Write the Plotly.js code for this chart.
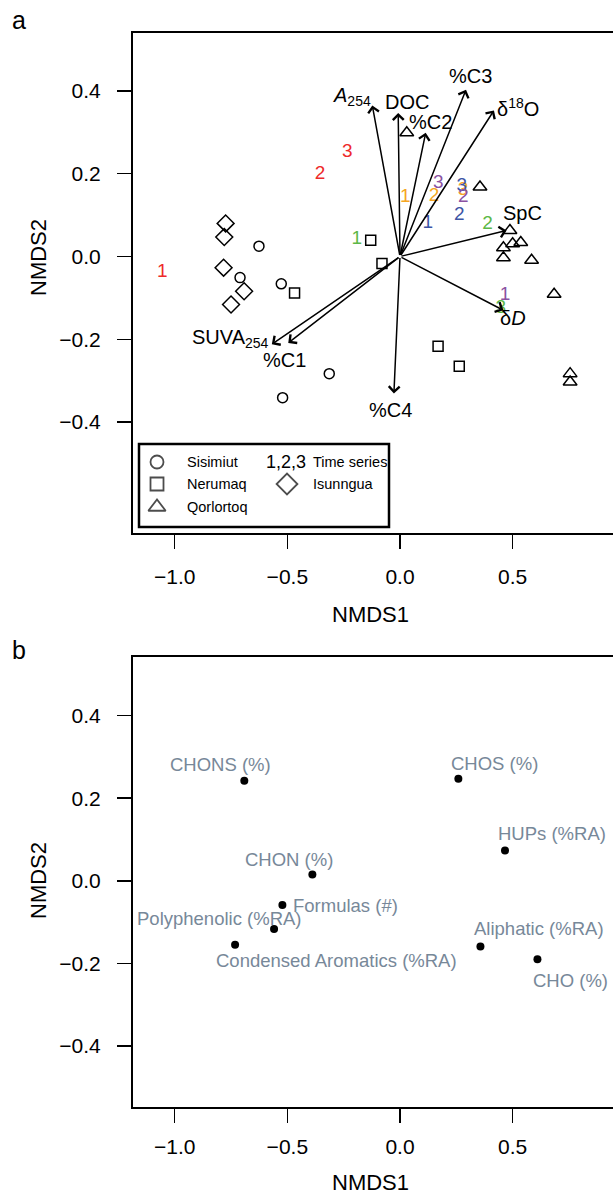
<!DOCTYPE html>
<html><head><meta charset="utf-8">
<script src="https://cdn.plot.ly/plotly-3.0.1.min.js"></script>
<style>html,body{margin:0;padding:0;overflow:hidden;background:#fff}#chart{width:630px;height:1195px}</style>
</head><body><div id="chart"></div>
<script>
// ---------- Panel a: sample scores ----------
const sisimiutX = [-0.626, -0.710, -0.527, -0.314, -0.521];
const sisimiutY = [0.025, -0.051, -0.066, -0.283, -0.341];
const nerumaqX = [-0.130, -0.080, -0.468, 0.169, 0.263];
const nerumaqY = [0.039, -0.017, -0.088, -0.217, -0.265];
const qorlortoqX = [0.030, 0.355, 0.488, 0.459, 0.500, 0.536, 0.459, 0.584, 0.684, 0.755, 0.755];
const qorlortoqY = [0.299, 0.168, 0.063, 0.021, 0.031, 0.034, -0.003, -0.009, -0.091, -0.283, -0.303];
const isunnguaX = [-0.774, -0.780, -0.783, -0.692, -0.750];
const isunnguaY = [0.080, 0.047, -0.027, -0.084, -0.116];

// time series labels
const tsGroup = ['red','red','red','green','green','green','orange','orange','orange','blue','blue','blue','purple','purple','purple'];
const tsLabel = ['1','2','3','1','2','3','1','2','3','1','2','3','1','2','3'];
const tsX = [-1.055, -0.355, -0.234, -0.192, 0.388, 0.447, 0.024, 0.151, 0.280, 0.123, 0.263, 0.274, 0.466, 0.281, 0.170];
const tsY = [-0.037, 0.199, 0.253, 0.041, 0.077, -0.124, 0.144, 0.146, 0.160, 0.080, 0.100, 0.170, -0.094, 0.144, 0.176];

// environmental vectors
const vecNames = ['<i>A</i><sub>254</sub>', 'DOC', '%C2', '%C3', 'δ<sup>18</sup>O', 'SpC', 'δ<i>D</i>', '%C4', '%C1', 'SUVA<sub>254</sub>'];
const vecX = [-0.123, -0.008, 0.114, 0.293, 0.417, 0.473, 0.459, -0.027, -0.496, -0.569];
const vecY = [0.365, 0.347, 0.299, 0.403, 0.353, 0.063, -0.130, -0.331, -0.209, -0.212];

// ---------- Panel b: molecular variables ----------
const molNames = ['CHONS (%)', 'CHOS (%)', 'HUPs (%RA)', 'CHON (%)', 'Formulas (#)', 'Polyphenolic (%RA)', 'Condensed Aromatics (%RA)', 'Aliphatic (%RA)', 'CHO (%)'];
const molX = [-0.691, 0.259, 0.466, -0.389, -0.522, -0.732, -0.559, 0.357, 0.610];
const molY = [0.242, 0.247, 0.073, 0.015, -0.059, -0.155, -0.117, -0.159, -0.190];

const xTicks = [-1, -0.5, 0, 0.5];
const xTickText = ['−1.0', '−0.5', '0.0', '0.5'];
const yTicks = [-0.4, -0.2, 0, 0.2, 0.4];
const yTickText = ['−0.4', '−0.2', '0.0', '0.2', '0.4'];

// ---------- style / layout constants ----------
const W = 630, H = 1195;
const FONT = 'Liberation Sans, Arial, Helvetica, sans-serif';
const plotL = 133, plotR = 616;
const aTop = 33, aBot = 533, bTop = 657, bBot = 1107;
const xRange = [-1.1851, 0.9587];
const yRangeA = [-0.668, 0.540];
const yRangeB = [-0.548, 0.542];
const tsColors = {red:'#EE2A2A', green:'#5CB847', orange:'#F5A623', blue:'#3D55A5', purple:'#8A52A2'};
const vecOffsets = [[-20,-9],[9,-11],[5,-11],[4,-14],[24,-3],[16,-17],[10,8],[-3,16],[-4,17],[-41,-6]];
const molOffsets = [[-24,-16],[36,-15],[47,-17],[-23,-15],[63,0],[-16,-26],[62,31],[59,-18],[33,21]];
const molColor = '#778899';

const px = p => p / W, py = p => 1 - p / H;
const xa = p => xRange[0] + (p - plotL) / (plotR - plotL) * (xRange[1] - xRange[0]);
const ya = p => yRangeA[1] - (p - aTop) / (aBot - aTop) * (yRangeA[1] - yRangeA[0]);

function axisBase(extra) {
  return Object.assign({
    showline: true, mirror: true, linecolor: '#000', linewidth: 2,
    ticks: 'outside', ticklen: 14, tickwidth: 1.5, tickcolor: '#000',
    showgrid: false, zeroline: false, fixedrange: true,
    tickfont: {family: FONT, size: 21, color: '#000'}
  }, extra);
}

const mk = (sym, size) => ({symbol: sym, size: size, color: '#000', line: {color: '#000', width: 1.5}});

const traces = [
  {x: sisimiutX, y: sisimiutY, mode: 'markers', marker: mk('circle-open', 10), xaxis: 'x', yaxis: 'y', hoverinfo: 'skip'},
  {x: nerumaqX, y: nerumaqY, mode: 'markers', marker: mk('square-open', 10), xaxis: 'x', yaxis: 'y', hoverinfo: 'skip'},
  {x: qorlortoqX, y: qorlortoqY, mode: 'markers', marker: mk('triangle-up-open', 12), xaxis: 'x', yaxis: 'y', hoverinfo: 'skip'},
  {x: isunnguaX, y: isunnguaY, mode: 'markers', marker: mk('diamond-open', 13), xaxis: 'x', yaxis: 'y', hoverinfo: 'skip'},
  {x: tsX, y: tsY, mode: 'text', text: tsLabel, textposition: 'middle center',
   textfont: {family: FONT, size: 19, color: tsGroup.map(g => tsColors[g])}, xaxis: 'x', yaxis: 'y', hoverinfo: 'skip'},
  // legend symbols
  {x: [xa(157), xa(157), xa(157), xa(287)], y: [ya(462), ya(484), ya(507), ya(484)], mode: 'markers',
   marker: {symbol: ['circle-open','square-open','triangle-up-open','diamond-open'], size: [13, 13, 15, 16], color: '#000', line: {color: '#000', width: 1.8}},
   xaxis: 'x', yaxis: 'y', hoverinfo: 'skip'},
  // panel b points
  {x: molX, y: molY, mode: 'markers', marker: {symbol: 'circle', size: 8, color: '#000'}, xaxis: 'x2', yaxis: 'y2', hoverinfo: 'skip'}
];

const annotations = [];
vecX.forEach((v, i) => {
  annotations.push({x: vecX[i], y: vecY[i], ax: 0, ay: 0, xref: 'x', yref: 'y', axref: 'x', ayref: 'y',
    text: '', showarrow: true, arrowhead: 4, arrowsize: 1.4, arrowwidth: 1.5, arrowcolor: '#000', standoff: 0, startstandoff: 0});
  annotations.push({x: vecX[i], y: vecY[i], xref: 'x', yref: 'y', text: vecNames[i], showarrow: false,
    xanchor: 'center', yanchor: 'middle',
    xshift: vecOffsets[i][0], yshift: -vecOffsets[i][1], font: {family: FONT, size: 20, color: '#000'}});
});
molX.forEach((v, i) => {
  annotations.push({x: molX[i], y: molY[i], xref: 'x2', yref: 'y2', text: molNames[i], showarrow: false,
    xanchor: 'center', yanchor: 'middle',
    xshift: molOffsets[i][0], yshift: -molOffsets[i][1], font: {family: FONT, size: 18.5, color: molColor}});
});
// axis titles and panel letters
const titleFont = {family: FONT, size: 22, color: '#000'};
function pa(x, y, text, font, extra) {
  annotations.push(Object.assign({xref: 'paper', yref: 'paper', x: px(x), y: py(y), text: text, showarrow: false,
    xanchor: 'center', yanchor: 'middle', font: font}, extra || {}));
}
pa(370, 614, 'NMDS1', titleFont);
pa(370, 1182, 'NMDS1', titleFont);
pa(38, 258, 'NMDS2', titleFont, {textangle: -90});
pa(38, 881, 'NMDS2', titleFont, {textangle: -90});
pa(19, 20, 'a', {family: FONT, size: 25, color: '#000'});
pa(19, 650, 'b', {family: FONT, size: 25, color: '#000'});
// legend texts
const lf = {family: FONT, size: 14.5, color: '#000'};
pa(185, 462, 'Sisimiut', lf, {xanchor: 'left'});
pa(185, 484, 'Nerumaq', lf, {xanchor: 'left'});
pa(185, 507, 'Qorlortoq', lf, {xanchor: 'left'});
pa(308, 462, '1,2,3', {family: FONT, size: 18, color: '#000'}, {xanchor: 'right'});
pa(311, 462, 'Time series', lf, {xanchor: 'left'});
pa(311, 484, 'Isunngua', lf, {xanchor: 'left'});

const layout = {
  width: W, height: H, margin: {l: 0, r: 0, t: 0, b: 0},
  paper_bgcolor: '#fff', plot_bgcolor: 'rgba(0,0,0,0)', showlegend: false,
  xaxis: axisBase({domain: [plotL / W, plotR / W], range: xRange, tickvals: xTicks, ticktext: xTickText, anchor: 'y', ticklabelstandoff: 10}),
  yaxis: axisBase({domain: [1 - aBot / H, 1 - aTop / H], range: yRangeA, tickvals: yTicks, ticktext: yTickText, anchor: 'x', ticklabelstandoff: 12}),
  xaxis2: axisBase({domain: [plotL / W, plotR / W], range: xRange, tickvals: xTicks, ticktext: xTickText, anchor: 'y2', ticklabelstandoff: 6}),
  yaxis2: axisBase({domain: [1 - bBot / H, 1 - bTop / H], range: yRangeB, tickvals: yTicks, ticktext: yTickText, anchor: 'x2', ticklabelstandoff: 12}),
  shapes: [{type: 'rect', xref: 'paper', yref: 'paper', x0: px(139), x1: px(389), y0: py(444), y1: py(527), line: {color: '#000', width: 2.5}, fillcolor: '#fff', layer: 'below'}],
  annotations: annotations
};
Plotly.newPlot('chart', traces, layout, {staticPlot: true, displayModeBar: false});
</script></body></html>
